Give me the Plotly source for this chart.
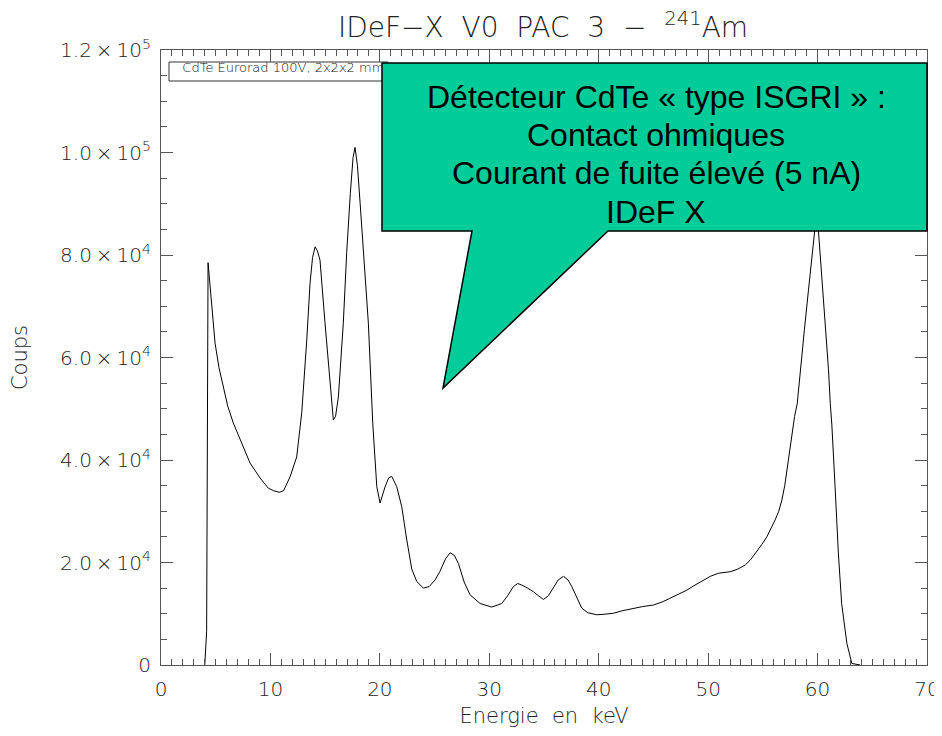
import plotly.graph_objects as go

# ---------------- data ----------------
energy_kev = [4.00, 4.17, 4.30, 4.63, 4.94, 5.3, 5.69, 6.1, 6.61, 7.0, 7.38, 8.14, 9.05, 9.81,
              10.3, 10.8, 11.2, 11.79, 12.40, 12.86, 13.32, 13.62, 13.85, 14.08, 14.3, 14.53,
              14.99, 15.45, 15.75, 15.95, 16.21, 16.66, 16.97, 17.3, 17.55, 17.73, 17.95, 18.2,
              18.49, 18.95, 19.35, 19.72, 20.02, 20.48, 20.8, 21.09, 21.54, 22.0, 22.46, 22.92,
              23.37, 23.98, 24.5, 25.05, 25.5, 26.0, 26.42, 26.8, 27.18, 27.7, 28.24, 29.16,
              30.23, 31.14, 31.7, 32.2, 32.6, 32.97, 33.5, 34.03, 34.5, 34.95, 35.4, 35.86,
              36.3, 36.78, 37.2, 37.54, 38.0, 38.45, 39.0, 39.83, 40.5, 41.35, 42.2, 43.17,
              44.0, 45.0, 45.8, 46.5, 47.3, 48.05, 48.8, 49.57, 50.2, 50.94, 52.01, 52.7,
              53.38, 53.9, 54.45, 54.9, 55.36, 55.75, 56.12, 56.45, 56.74, 57.0, 57.19, 57.45,
              57.65, 57.9, 58.14, 58.41, 58.8, 59.17, 59.45, 59.72, 59.9, 60.08, 60.49, 60.8,
              61.0, 61.16, 61.3, 61.6, 61.9, 62.2, 62.68, 63.13, 63.9]
counts = [0, 6500, 78500, 69900, 62800, 58000, 54300, 50500, 47200, 45200, 43300, 39400, 36500, 34500,
          34000, 33700, 34000, 36700, 40600, 49200, 63400, 74500, 79500, 81600, 80800, 79000,
          66700, 55000, 47800, 48500, 52300, 66700, 80500, 92000, 99000, 101000, 97500, 90000,
          81000, 66700, 47200, 34800, 31600, 34800, 36500, 36800, 34800, 30900, 24400, 18700,
          16300, 15000, 15300, 16600, 18300, 20700, 21900, 21400, 19800, 16200, 13700, 12000,
          11300, 12000, 13600, 15300, 15900, 15600, 15000, 14300, 13500, 12800, 13500, 15000,
          16600, 17300, 16600, 15300, 13000, 11100, 10200, 9800, 9900, 10100, 10600, 11100,
          11400, 11700, 12300, 13000, 13800, 14600, 15600, 16600, 17300, 17900, 18200, 18700,
          19500, 20600, 22100, 23500, 25000, 26600, 28300, 30000, 32200, 35000, 38000, 41500,
          44500, 48500, 51000, 57600, 65500, 73200, 79000, 84700, 88000, 84700, 73200, 63000,
          57600, 51000, 47000, 34800, 21800, 12000, 4200, 300, 0]

TS = "\u2009"  # thin space, mimics the wide vector font spacing
y_tickvals = [0, 20000, 40000, 60000, 80000, 100000, 120000]
y_ticktext = ["0",
              f"2.0{TS}×{TS}10<sup>4</sup>", f"4.0{TS}×{TS}10<sup>4</sup>", f"6.0{TS}×{TS}10<sup>4</sup>",
              f"8.0{TS}×{TS}10<sup>4</sup>", f"1.0{TS}×{TS}10<sup>5</sup>", f"1.2{TS}×{TS}10<sup>5</sup>"]
x_tickvals = [0, 10, 20, 30, 40, 50, 60, 70]

NB = "\u00a0"
title_text = f"IDeF−X{NB}{NB}V0{NB}{NB}PAC{NB}{NB}3{NB}{NB}−{NB}{NB}<sup>241</sup>Am"
x_title = f"Energie{NB}{NB}en{NB}{NB}keV"
y_title = "Coups"
legend_text = "CdTe Eurorad 100V, 2x2x2 mm"
callout_lines = ["Détecteur CdTe « type ISGRI » :", "Contact ohmiques",
                 "Courant de fuite élevé (5 nA)", "IDeF X"]

# ---------------- layout geometry ----------------
# the page body has an 8 px margin; screen coords below are window coords
OFF = 8
W, H = 942 - 2 * OFF, 736 - 2 * OFF
L, R, T, B = 161, 927, 50, 665   # plot area in window pixels

def px(x):
    return (x - L) / (R - L)

def py(y):
    return (B - y) / (B - T)

IDL_FONT = "DejaVu Sans"
TXT_COLOR = "#222222"
AX_FONT = dict(family=IDL_FONT, size=20, color=TXT_COLOR, weight=200)

fig = go.Figure()
fig.add_trace(go.Scatter(x=energy_kev, y=counts, mode="lines",
                         line=dict(color="black", width=1), showlegend=False,
                         hoverinfo="x+y"))
# legend label (a text trace so the callout can cover it)
fig.add_trace(go.Scatter(x=[1.95], y=[116300], mode="text", text=[legend_text],
                         textposition="middle right",
                         textfont=dict(family=IDL_FONT, size=13, color="#111", weight=200),
                         showlegend=False, hoverinfo="skip"))

axis_common = dict(showline=True, linecolor="#555555", linewidth=1, mirror="ticks",
                   ticks="inside", ticklen=12, tickwidth=1, tickcolor="#555555",
                   showgrid=False, zeroline=False, tickfont=AX_FONT,
                   ticklabeloverflow="allow", automargin=False)

fig.update_xaxes(range=[0, 70], tickvals=x_tickvals, **axis_common, ticklabelstandoff=6,
                 minor=dict(ticks="inside", ticklen=6, dtick=1, tickcolor="#555555", showgrid=False),
                 title=dict(text=x_title, font=dict(AX_FONT, size=21), standoff=10))
fig.update_yaxes(range=[0, 120000], tickvals=y_tickvals, ticktext=y_ticktext, **axis_common,
                 ticklabelstandoff=5,
                 minor=dict(ticks="inside", ticklen=6, dtick=5000, tickcolor="#555555", showgrid=False),
                 title=dict(text=y_title, font=dict(AX_FONT, size=21), standoff=30))

shapes = [
    # legend box
    dict(type="rect", xref="paper", yref="paper", x0=px(169), x1=px(388), y0=py(81), y1=py(62),
         line=dict(color="#333", width=1), fillcolor="white", layer="below"),
    # callout
    dict(type="path", xref="paper", yref="paper",
         path=("M {a},{b} L {c},{b} L {c},{d} L {e},{d} L {f},{g} L {h},{d} L {a},{d} Z").format(
             a=px(382), b=py(63), c=px(927), d=py(231), e=px(608), f=px(443), g=py(388), h=px(472)),
         fillcolor="#00CC99", line=dict(color="black", width=1.5), layer="above"),
]

annotations = []
line_y = [97, 135, 173, 212]
for txt, yy in zip(callout_lines, line_y):
    annotations.append(dict(text=txt, xref="paper", yref="paper", x=px(656), y=py(yy),
                            xanchor="center", yanchor="middle", showarrow=False,
                            font=dict(family="Liberation Sans, Arial", size=32, color="black")))

fig.update_layout(
    width=W, height=H,
    margin=dict(l=L - OFF, r=W - (R - OFF), t=T - OFF, b=H - (B - OFF), pad=0,
                autoexpand=False),
    paper_bgcolor="white", plot_bgcolor="white",
    title=dict(text=title_text, x=px(543), xref="paper", xanchor="center",
               y=1 - (27 - OFF) / H, yref="container", yanchor="middle",
               font=dict(family=IDL_FONT, size=28, color=TXT_COLOR, weight=200)),
    shapes=shapes, annotations=annotations,
)

fig.write_html("out.html")
